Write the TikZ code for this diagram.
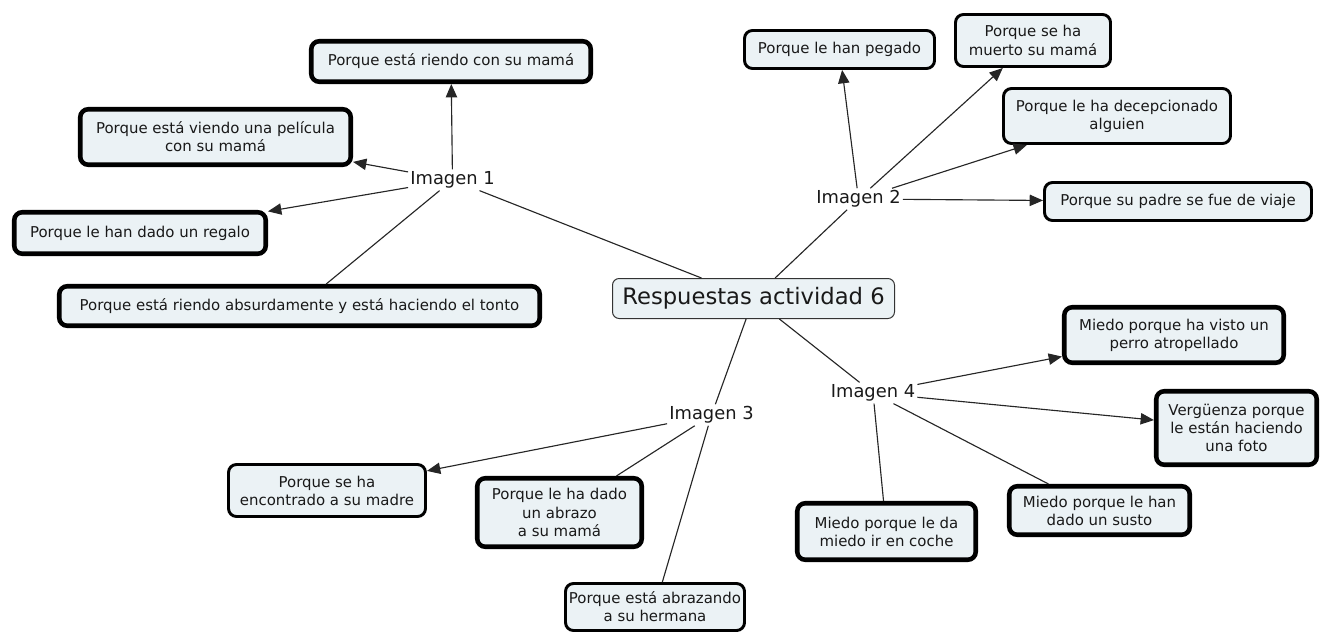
\documentclass[tikz,border=0pt]{standalone}
\usepackage{fontspec}
\setmainfont{DejaVu Sans}
\usetikzlibrary{arrows.meta}
\definecolor{boxfill}{RGB}{235,242,245}
\definecolor{ink}{RGB}{25,25,25}
\newcommand{\boxfont}{\fontsize{11.2}{13.6}\selectfont}
\newcommand{\labfont}{\fontsize{13.4}{16}\selectfont}
\newcommand{\titlefont}{\fontsize{17}{20}\selectfont}
\begin{document}
\begin{tikzpicture}[x=0.75pt,y=-0.75pt,
  cbox/.style={draw=black, fill=boxfill, rounded corners=6pt, align=center, text=ink, font=\boxfont, inner sep=0pt},
  heavybox/.style 2 args={cbox, line width=3.4pt, minimum width={(#1-4.5)*0.75pt}, minimum height={(#2-4.5)*0.75pt}},
  midbox/.style 2 args={cbox, line width=2.2pt, minimum width={(#1-3)*0.75pt}, minimum height={(#2-3)*0.75pt}},
  mainbox/.style={cbox, draw=black!80, line width=0.75pt, rounded corners=5pt, font=\titlefont, minimum width={282*0.75pt}, minimum height={40*0.75pt}},
  link/.style={text=ink, font=\labfont, inner sep=1.5pt},
  conn/.style={draw=black!85, line width=0.85pt},
  arr/.style={conn, -{Triangle[length=10pt,width=8.5pt]}},
]
\useasboundingbox (0,0) rectangle (1321,635);

% central concept
\node[mainbox] (c) at (753.5,298.5) {Respuestas actividad 6};

% linking phrases
\node[link] (l1) at (452.5,180) {Imagen 1};
\node[link] (l2) at (858.5,199) {Imagen 2};
\node[link] (l3) at (711.5,415) {Imagen 3};
\node[link] (l4) at (873,393) {Imagen 4};

% Imagen 1 group
\node[heavybox={284}{45}] (b1) at (451,61.5) {Porque está riendo con su mamá};
\node[heavybox={275}{60}] (b2) at (215.5,137) {Porque está viendo una película\\con su mamá};
\node[heavybox={256}{46}] (b3) at (140,233) {Porque le han dado un regalo};
\node[heavybox={485}{44}] (b4) at (299.5,306) {Porque está riendo absurdamente y está haciendo el tonto};

% Imagen 2 group
\node[midbox={193}{41}] (b5) at (839.5,49.5) {Porque le han pegado};
\node[midbox={158}{55}] (b6) at (1033,40.5) {Porque se ha\\muerto su mamá};
\node[midbox={230}{58}] (b7) at (1117,116) {Porque le ha decepcionado\\alguien};
\node[midbox={270}{41}] (b8) at (1178,201.5) {Porque su padre se fue de viaje};

% Imagen 4 group
\node[heavybox={224}{60}] (b9) at (1174,335) {Miedo porque ha visto un\\perro atropellado};
\node[heavybox={165}{78}] (b10) at (1236.5,428) {Vergüenza porque\\le están haciendo\\una foto};
\node[heavybox={185}{53}] (b11) at (1099.5,510.5) {Miedo porque le han\\dado un susto};
\node[heavybox={183}{61}] (b12) at (886.5,531.5) {Miedo porque le da\\miedo ir en coche};

% Imagen 3 group
\node[midbox={182}{50}] (b13) at (655,607) {Porque está abrazando\\a su hermana};
\node[heavybox={169}{73}] (b14) at (559.5,512.5) {Porque le ha dado\\un abrazo\\a su mamá};
\node[midbox={200}{55}] (b15) at (327,490.5) {Porque se ha\\encontrado a su madre};

% connectors from the centre
\draw[conn] (c) -- (l1);
\draw[conn] (c) -- (l2);
\draw[conn] (c) -- (l3);
\draw[conn] (c) -- (l4);

% Imagen 1
\draw[arr] (l1) -- (b1);
\draw[arr] (l1) -- (b2);
\draw[arr] (l1) -- (b3);
\draw[conn] (l1) -- (b4);

% Imagen 2
\draw[arr] (l2) -- (b5);
\draw[arr] (l2) -- (b6);
\draw[arr] (l2) -- (b7);
\draw[arr] (l2) -- (b8);

% Imagen 3
\draw[arr] (l3) -- (b15);
\draw[conn] (l3) -- (b14);
\draw[conn] (l3) -- (b13);

% Imagen 4
\draw[arr] (l4) -- (b9);
\draw[arr] (l4) -- (b10);
\draw[conn] (l4) -- (b11);
\draw[conn] (l4) -- (b12);
\end{tikzpicture}
\end{document}
